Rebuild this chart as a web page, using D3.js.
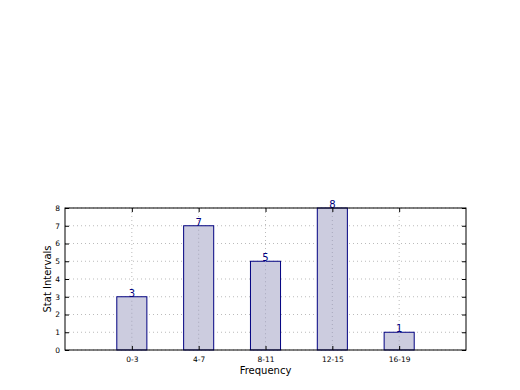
<!DOCTYPE html>
<html>
<head>
<meta charset="utf-8">
<script src="https://cdn.jsdelivr.net/npm/d3@7"></script>
<style>
  body { margin: 0; background: #fff; }
  svg { font-family: "DejaVu Sans", sans-serif; }
</style>
</head>
<body>
<div class="canvas"></div>
<script>
// data
var intervals = ["0-3", "4-7", "8-11", "12-15", "16-19"];
var counts = [3, 7, 5, 8, 1];
var yTicks = [0, 1, 2, 3, 4, 5, 6, 7, 8];

var width = 520, height = 390;
var padL = 65, padR = 466, padT = 208, padB = 350;

var svg = d3.select(".canvas").append("svg")
  .attr("width", width)
  .attr("height", height);

// x: bars sit at 1..5 on a 0..6 axis
var x = d3.scaleLinear().domain([0, intervals.length + 1]).range([padL, padR]);
var y = d3.scaleLinear().domain([0, 8]).range([padB, padT]);
var barW = 0.45;

// grid
svg.append("g").selectAll("line").data(yTicks).enter().append("line")
  .attr("x1", padL).attr("x2", padR)
  .attr("y1", function(d){ return y(d); }).attr("y2", function(d){ return y(d); })
  .attr("stroke", "#bbbbbb").attr("stroke-width", 1).attr("stroke-dasharray", "1,3");
svg.append("g").selectAll("line").data(intervals).enter().append("line")
  .attr("x1", function(d,i){ return x(i+1); }).attr("x2", function(d,i){ return x(i+1); })
  .attr("y1", padT).attr("y2", padB)
  .attr("stroke", "#bbbbbb").attr("stroke-width", 1).attr("stroke-dasharray", "1,3");

// bars
svg.append("g").selectAll("rect").data(counts).enter().append("rect")
  .attr("x", function(d,i){ return x(i+1-barW/2); })
  .attr("y", function(d){ return y(d); })
  .attr("width", x(barW) - x(0))
  .attr("height", function(d){ return padB - y(d); })
  .attr("fill", "#ccccdf")
  .attr("stroke", "#000080").attr("stroke-width", 1);

// vertical grid shows through the bars
svg.append("g").selectAll("line").data(intervals).enter().append("line")
  .attr("x1", function(d,i){ return x(i+1); }).attr("x2", function(d,i){ return x(i+1); })
  .attr("y1", function(d,i){ return y(counts[i]); }).attr("y2", padB)
  .attr("stroke", "#a8a8bc").attr("stroke-width", 1).attr("stroke-dasharray", "1,3");

// value labels
svg.append("g").selectAll("text").data(counts).enter().append("text")
  .attr("x", function(d,i){ return x(i+1); })
  .attr("y", function(d){ return y(d); })
  .attr("text-anchor", "middle")
  .attr("font-size", "10px")
  .attr("fill", "#000080")
  .text(function(d){ return d; });

// frame
svg.append("rect")
  .attr("x", padL).attr("y", padT)
  .attr("width", padR-padL).attr("height", padB-padT)
  .attr("fill", "none").attr("stroke", "#000").attr("stroke-width", 1);

// axes (ticks inside, classic style)
var axisL = d3.axisLeft(y).tickValues(yTicks).tickSizeInner(-4).tickSizeOuter(0).tickPadding(5);
var gL = svg.append("g").attr("transform", "translate(" + padL + ",0)").call(axisL);
var axisR = d3.axisRight(y).tickValues(yTicks).tickSizeInner(-4).tickSizeOuter(0).tickFormat("");
var gR = svg.append("g").attr("transform", "translate(" + padR + ",0)").call(axisR);
var xt = d3.range(1, intervals.length + 1);
var axisB = d3.axisBottom(x).tickValues(xt).tickSizeInner(-4).tickSizeOuter(0).tickPadding(7)
  .tickFormat(function(d){ return intervals[d-1]; });
var gB = svg.append("g").attr("transform", "translate(0," + padB + ")").call(axisB);
var axisT = d3.axisTop(x).tickValues(xt).tickSizeInner(-4).tickSizeOuter(0).tickFormat("");
var gT = svg.append("g").attr("transform", "translate(0," + padT + ")").call(axisT);
[gL, gR, gB, gT].forEach(function(g){
  g.select(".domain").remove();
  g.selectAll("text").attr("font-family", "DejaVu Sans").attr("font-size", "7.5px").attr("fill", "#000");
  g.selectAll(".tick line").attr("stroke", "#000");
});

// axis labels
svg.append("text")
  .text("Frequency")
  .attr("x", (padL+padR)/2).attr("y", 374)
  .attr("text-anchor", "middle")
  .attr("font-size", "10px");
svg.append("text")
  .text("Stat Intervals")
  .attr("transform", "translate(51," + ((padT+padB)/2) + ") rotate(-90)")
  .attr("text-anchor", "middle")
  .attr("font-size", "10px");
</script>
</body>
</html>
